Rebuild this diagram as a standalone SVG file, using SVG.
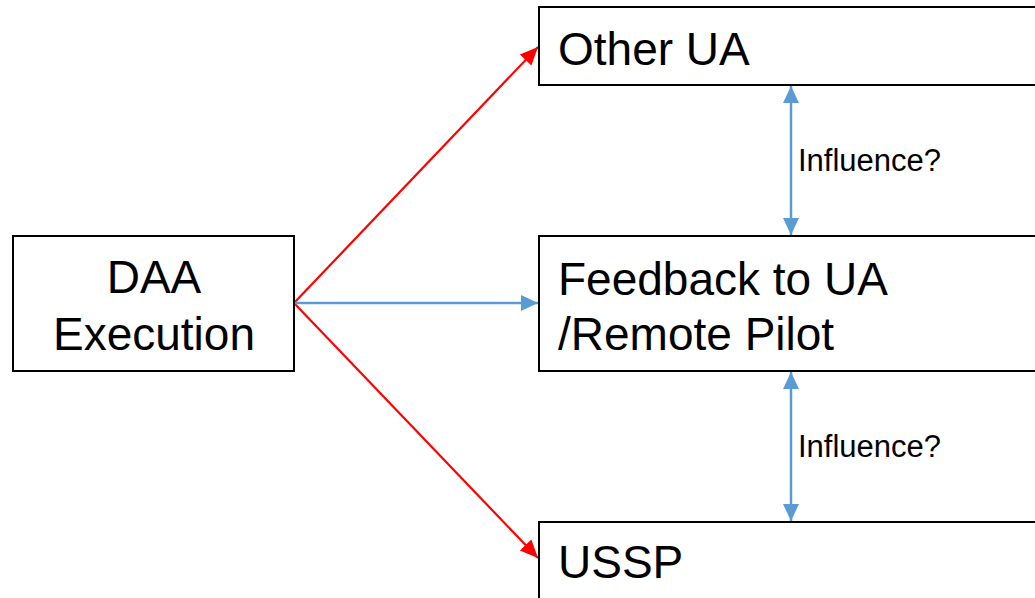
<svg xmlns="http://www.w3.org/2000/svg" width="1035" height="598" viewBox="0 0 1035 598">
<style>
.box{fill:#fff;stroke:#000;stroke-width:2}
.big{font-family:"Liberation Sans",Arial,sans-serif;font-size:46px;fill:#000}
.small{font-family:"Liberation Sans",Arial,sans-serif;font-size:31px;fill:#000}
.red{stroke:#ff0000;stroke-width:2.2;fill:none}
.blue{stroke:#5b9bd5;stroke-width:2.5;fill:none}
</style>
<defs>
<marker id="ar" markerUnits="userSpaceOnUse" markerWidth="20" markerHeight="20" viewBox="0 0 20 20" refX="18" refY="10" orient="auto">
<path d="M0,2 L18,10 L0,18 Z" fill="#ff0000"/>
</marker>
<marker id="ab" markerUnits="userSpaceOnUse" markerWidth="20" markerHeight="20" viewBox="0 0 20 20" refX="17" refY="10" orient="auto">
<path d="M0,2 L17,10 L0,18 Z" fill="#5b9bd5"/>
</marker>
<marker id="abs" markerUnits="userSpaceOnUse" markerWidth="20" markerHeight="20" viewBox="0 0 20 20" refX="3" refY="10" orient="auto">
<path d="M20,2 L3,10 L20,18 Z" fill="#5b9bd5"/>
</marker>
</defs>
<g id="connectors">
<line class="red" x1="294" y1="303" x2="538" y2="47" marker-end="url(#ar)"/>
<line class="red" x1="294" y1="303" x2="538" y2="558" marker-end="url(#ar)"/>
<line class="blue" x1="294" y1="303" x2="538" y2="303" marker-end="url(#ab)"/>
<line class="blue" x1="791" y1="86" x2="791" y2="235" marker-start="url(#abs)" marker-end="url(#ab)"/>
<line class="blue" x1="791" y1="372" x2="791" y2="521" marker-start="url(#abs)" marker-end="url(#ab)"/>
<text class="small" x="798" y="171">Influence?</text>
<text class="small" x="798" y="457">Influence?</text>
</g>
<g id="daa">
<rect class="box" x="13" y="236" width="281" height="135"/>
<text class="big" x="154" y="293" text-anchor="middle">DAA</text>
<text class="big" x="154" y="350" text-anchor="middle">Execution</text>
</g>
<g id="other-ua">
<rect class="box" x="539" y="7" width="510" height="78"/>
<text class="big" x="558" y="65">Other UA</text>
</g>
<g id="feedback">
<rect class="box" x="539" y="236" width="510" height="135"/>
<text class="big" x="558" y="295">Feedback to UA</text>
<text class="big" x="558" y="350">/Remote Pilot</text>
</g>
<g id="ussp">
<rect class="box" x="539" y="522" width="510" height="90"/>
<text class="big" x="558" y="578">USSP</text>
</g>
</svg>
